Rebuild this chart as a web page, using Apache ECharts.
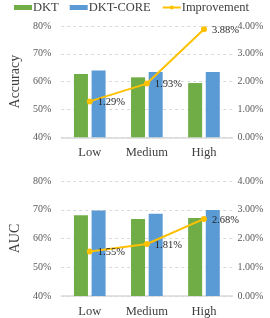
<!DOCTYPE html>
<html><head><meta charset="utf-8">
<script src="https://cdn.jsdelivr.net/npm/echarts@6/dist/echarts.min.js"></script>
<style>html,body{margin:0;padding:0;background:#fff}#c{width:270px;height:318px}</style>
</head><body><div id="c"></div>
<script>
const categories = ['Low', 'Medium', 'High'];
const accDKT = [62.75, 61.55, 59.5];
const accCORE = [64.05, 63.45, 63.45];
const accImp = [1.29, 1.93, 3.88];
const aucDKT = [68.1, 66.8, 67.15];
const aucCORE = [69.7, 68.65, 69.9];
const aucImp = [1.55, 1.81, 2.68];
const leftTicks = [40, 80, 10];
const rightTicks = [0, 4, 1];

const FONT = "'Liberation Serif','Times New Roman',serif";
const GREEN = '#70AD47', BLUE = '#5B9BD5', GOLD = '#FFC000';
const chart = echarts.init(document.getElementById('c'));

function xAx(i){
  return {type:'category', gridIndex:i, data:categories,
    axisLine:{lineStyle:{color:'#d9d9d9', width:1.5}}, axisTick:{show:false},
    axisLabel:{interval:0, fontFamily:FONT, fontSize:12.5, color:'#404040', margin:9}};
}
function yL(i, name){
  return {type:'value', gridIndex:i, min:leftTicks[0], max:leftTicks[1], interval:leftTicks[2],
    name:name, nameLocation:'middle', nameGap:36, nameRotate:90,
    nameTextStyle:{fontFamily:FONT, fontSize:14, color:'#404040'},
    axisLine:{show:false}, axisTick:{show:false},
    splitLine:{lineStyle:{color:'#d9d9d9', type:[3,3]}},
    axisLabel:{fontFamily:FONT, fontSize:10, color:'#595959', margin:10, formatter: v => v + '%'}};
}
function yR(i){
  return {type:'value', gridIndex:i, position:'right', min:rightTicks[0], max:rightTicks[1], interval:rightTicks[2],
    axisLine:{show:false}, axisTick:{show:false}, splitLine:{show:false},
    axisLabel:{fontFamily:FONT, fontSize:10, color:'#595959', margin:5, formatter: v => v.toFixed(2) + '%'}};
}
function bars(name, data, color, xi, yi){
  return {name, type:'bar', xAxisIndex:xi, yAxisIndex:yi, data, barWidth:14, barGap:'26%',
    itemStyle:{color}};
}
function line(data, xi, yi){
  return {name:'Improvement', type:'line', xAxisIndex:xi, yAxisIndex:yi, data,
    symbol:'circle', symbolSize:6, lineStyle:{color:GOLD, width:2}, itemStyle:{color:GOLD},
    label:{show:true, position:'right', distance:5, offset:[0,1], fontFamily:FONT, fontSize:10.5, color:'#262626',
      formatter: p => p.value.toFixed(2) + '%'}, z:5};
}

chart.setOption({
  animation:false,
  legend:{left:14, top:1, padding:0, width:262, itemWidth:18, itemHeight:5, itemGap:11,
    textStyle:{fontFamily:FONT, fontSize:12.5, color:'#404040', padding:[0,0,0,-4]},
    data:[{name:'DKT', icon:'rect'},{name:'DKT-CORE', icon:'rect'},{name:'Improvement'}]},
  grid:[{left:43, right:37.5, top:26, height:111.3},{left:43, right:37.5, top:181, height:116.3}],
  xAxis:[xAx(0), xAx(1)],
  yAxis:[yL(0,'Accuracy'), yR(0), yL(1,'AUC'), yR(1)],
  series:[
    bars('DKT', accDKT, GREEN, 0, 0), bars('DKT-CORE', accCORE, BLUE, 0, 0), line(accImp, 0, 1),
    bars('DKT', aucDKT, GREEN, 1, 2), bars('DKT-CORE', aucCORE, BLUE, 1, 2), line(aucImp, 1, 3)
  ]
});
</script></body></html>
